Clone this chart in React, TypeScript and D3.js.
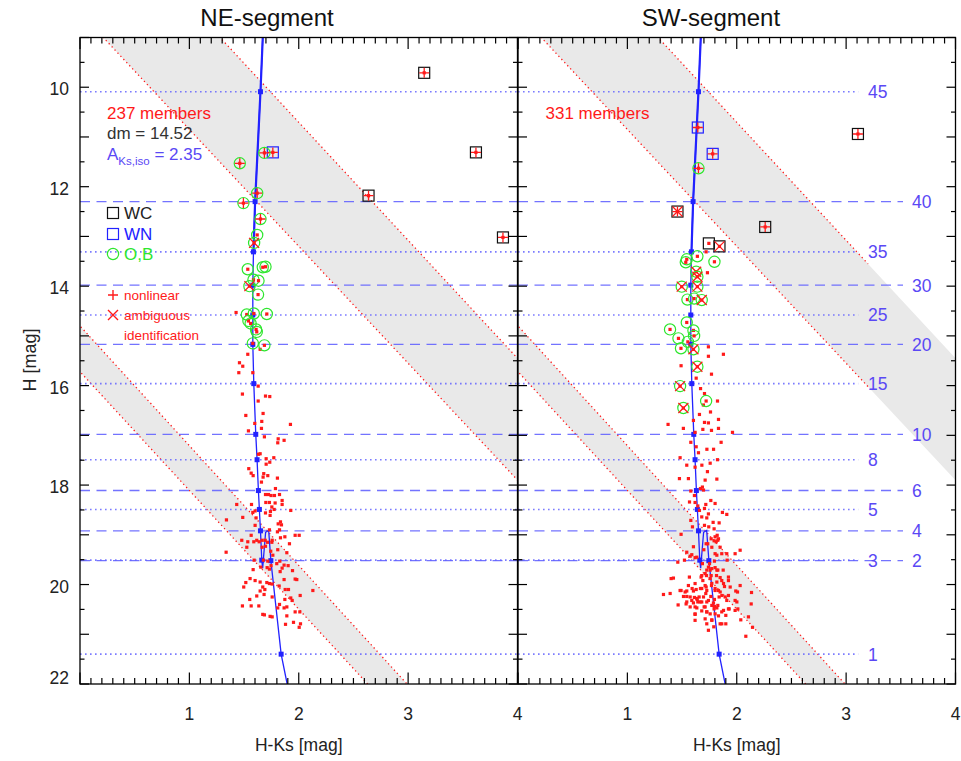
import React from 'react';
import * as d3 from 'd3';

// ---------- data ----------
const panelTitles = ['NE-segment', 'SW-segment'];
const memberCounts = ['237 members', '331 members'];
const xTickLabels = [1, 2, 3, 4];
const yTickLabels = [10, 12, 14, 16, 18, 20, 22];

// isochrone (H-Ks, H)
const isoX = [1.671, 1.650, 1.601, 1.586, 1.580, 1.580, 1.580, 1.589, 1.607, 1.619, 1.631, 1.640, 1.650, 1.662, 1.670, 1.697, 1.725, 1.745, 1.839, 1.894];
const isoH = [9.0, 10.09, 12.30, 13.31, 13.98, 14.58, 15.17, 15.96, 16.98, 17.49, 18.11, 18.49, 18.92, 19.51, 19.67, 18.95, 18.91, 19.52, 21.40, 22.0];

// mass marks along isochrone
const massLabels = ['45', '40', '35', '30', '25', '20', '15', '10', '8', '6', '5', '4', '3', '2', '1'];
const massH = [10.09, 12.30, 13.31, 13.98, 14.58, 15.17, 15.96, 16.98, 17.49, 18.11, 18.49, 18.92, 19.51, 19.52, 21.40];
const massX = [1.650, 1.601, 1.586, 1.580, 1.580, 1.580, 1.589, 1.607, 1.619, 1.631, 1.640, 1.650, 1.662, 1.745, 1.839];
const massDashed = [false, true, false, true, false, true, false, true, false, true, false, true, false, true, false];

// reddening band borders: [x1, H1, x2, H2]
const bandUpperLeft = [0.213, 9.0, 4.0, 17.90];
const bandUpperRight = [1.281, 9.0, 4.0, 15.45];
const bandLowerUpper = [0.0, 14.80, 2.99, 22.0];
const bandLowerLower = [0.0, 15.72, 2.63, 22.0];
const borderMaxX = [4.0, 3.2];

// NE-segment special stars
const neSpecX = [3.147, 3.62, 2.638, 3.867, 1.763, 1.686, 1.461, 1.62, 1.494, 1.65, 1.62, 1.592, 1.534, 1.671, 1.696, 1.586, 1.632, 1.549, 1.628, 1.525, 1.589, 1.708, 1.54, 1.56, 1.61, 1.616, 1.58, 1.686];
const neSpecH = [9.71, 11.31, 12.18, 13.02, 11.31, 11.32, 11.53, 12.13, 12.33, 12.65, 12.97, 13.13, 13.66, 13.62, 13.61, 13.87, 13.89, 14.0, 14.17, 14.57, 14.55, 14.56, 14.70, 14.75, 14.87, 14.92, 15.15, 15.19];
const neSpecType = ['WC', 'WC', 'WC', 'WC', 'WN', 'OB', 'OB', 'OB', 'OB', 'OB', 'OB', 'OB', 'OB', 'OB', 'OB', 'OB', 'OB', 'OB', 'OB', 'OB', 'OB', 'OB', 'OB', 'OB', 'OB', 'OB', 'OB', 'OB'];
const neSpecFlag = ['+', '+', '+', '+', '+', '+', '+', '+', '+', '+', '', 'x', '', '', '', '', '', 'x', '', '', '', '', '', '', '', '', '', ''];

// SW-segment special stars
const swSpecX = [3.108, 1.644, 1.78, 1.65, 1.458, 2.26, 1.745, 1.842, 1.543, 1.534, 1.64, 1.796, 1.629, 1.64, 1.497, 1.64, 1.549, 1.61, 1.68, 1.543, 1.39, 1.604, 1.467, 1.61, 1.553, 1.49, 1.604, 1.64, 1.482, 1.512, 1.72];
const swSpecH = [10.94, 10.81, 11.34, 11.63, 12.50, 12.81, 13.14, 13.20, 13.46, 13.52, 13.40, 13.51, 13.71, 13.81, 14.01, 14.01, 14.27, 14.25, 14.28, 14.73, 14.87, 14.89, 15.05, 15.0, 15.12, 15.25, 15.27, 15.62, 16.01, 16.45, 16.31];
const swSpecType = ['WC', 'WN', 'WN', 'OB', 'WC', 'WC', 'WC', 'WC', 'OB', 'OB', 'OB', 'OB', 'OB', 'OB', 'OB', 'OB', 'OB', 'OB', 'OB', 'OB', 'OB', 'OB', 'OB', 'OB', 'OB', 'OB', 'OB', 'OB', 'OB', 'OB', 'OB'];
const swSpecFlag = ['+', '+', '+', '+', '*', '+', '', 'x', '', '', '', '', 'x', 'x', 'x', 'x', '', '', 'x', '', '', '', '', '', '', '', 'x', 'x', 'x', 'x', ''];

// NE-segment other members
const neDotX = [1.427, 1.534, 1.647, 1.458, 1.488, 1.452, 1.580, 1.629, 1.485, 1.696, 1.735, 1.629, 1.674, 1.516, 1.662, 1.598, 1.659, 1.924, 1.540, 1.812, 1.866, 1.686, 1.808, 1.647, 1.632, 1.772, 1.702, 1.735, 1.702, 1.543, 1.565, 1.583, 1.680, 1.717, 1.674, 1.805, 1.659, 1.787, 1.696, 1.723, 1.747, 1.778, 1.824, 1.848, 1.848, 1.433, 1.568, 1.699, 1.732, 1.784, 1.754, 1.927, 1.580, 1.601, 1.696, 1.741, 1.775, 1.488, 1.610, 1.738, 1.833, 1.812, 1.842, 1.339, 1.601, 1.732, 1.824, 1.805, 1.565, 1.479, 1.534, 1.589, 1.616, 1.638, 1.665, 1.693, 1.757, 1.714, 1.754, 1.915, 1.967, 2.004, 1.873, 1.833, 1.336, 1.525, 1.665, 1.696, 1.744, 1.808, 1.891, 1.763, 1.592, 1.677, 1.717, 1.827, 1.799, 1.866, 1.903, 1.848, 1.583, 1.653, 1.711, 1.732, 1.747, 1.830, 1.943, 1.555, 1.516, 1.497, 1.601, 1.647, 1.671, 1.708, 1.732, 1.647, 1.690, 1.757, 1.821, 1.866, 1.967, 1.982, 2.129, 1.876, 1.906, 1.873, 1.927, 1.940, 1.616, 1.552, 1.683, 1.757, 2.013, 1.485, 1.565, 1.635, 1.824, 1.808, 1.866, 1.891, 1.967, 2.010, 1.671, 1.686, 1.738, 1.757, 1.891, 1.952, 1.879, 2.016, 2.004];
const neDotH = [14.53, 15.37, 15.27, 15.54, 15.61, 15.74, 15.74, 16.01, 16.17, 16.21, 16.22, 16.31, 16.56, 16.60, 16.72, 16.76, 16.86, 16.78, 16.91, 17.07, 17.10, 17.03, 17.15, 17.37, 17.38, 17.45, 17.47, 17.54, 17.58, 17.67, 17.76, 17.81, 17.77, 17.81, 17.84, 17.86, 17.94, 18.07, 18.19, 18.19, 18.21, 18.21, 18.19, 18.31, 18.39, 18.39, 18.39, 18.35, 18.35, 18.36, 18.44, 18.51, 18.55, 18.52, 18.56, 18.53, 18.49, 18.65, 18.66, 18.61, 18.74, 18.78, 18.80, 18.70, 18.81, 18.90, 18.90, 18.94, 19.01, 19.11, 19.14, 19.14, 19.11, 19.14, 19.11, 19.11, 19.11, 19.15, 19.15, 19.18, 19.01, 19.01, 19.04, 19.06, 19.35, 19.25, 19.25, 19.23, 19.33, 19.30, 19.36, 19.41, 19.51, 19.51, 19.53, 19.53, 19.58, 19.61, 19.62, 19.67, 19.70, 19.65, 19.66, 19.69, 19.62, 19.74, 19.72, 19.88, 19.96, 20.05, 19.92, 19.95, 20.05, 19.96, 19.98, 20.13, 20.10, 19.99, 20.03, 19.90, 19.89, 19.90, 20.12, 20.10, 20.10, 20.30, 20.27, 20.32, 20.23, 20.30, 20.20, 20.25, 20.22, 20.43, 20.43, 20.43, 20.40, 20.47, 20.47, 20.45, 20.55, 20.55, 20.60, 20.61, 20.64, 20.65, 20.63, 20.76, 20.80, 20.79, 20.86];

// SW-segment other members
const swDotX = [1.732, 1.720, 1.741, 1.878, 1.741, 1.491, 1.769, 1.629, 1.669, 1.705, 1.824, 1.695, 1.760, 1.659, 1.833, 1.604, 1.705, 1.741, 1.372, 1.512, 1.690, 1.833, 1.769, 1.619, 1.961, 1.580, 1.857, 1.629, 1.727, 1.788, 1.650, 1.482, 1.824, 1.543, 1.681, 1.757, 1.619, 1.732, 1.818, 1.476, 1.558, 1.711, 1.686, 1.668, 1.696, 1.580, 1.613, 1.568, 1.619, 1.717, 1.763, 1.802, 1.644, 1.659, 1.741, 1.869, 1.909, 1.705, 1.680, 1.726, 1.784, 1.580, 1.595, 1.705, 1.744, 1.839, 1.802, 1.827, 1.821, 1.793, 1.491, 1.543, 1.589, 1.635, 1.699, 1.735, 1.772, 1.812, 1.848, 1.802, 1.863, 1.985, 2.031, 1.912, 1.796, 1.751, 1.522, 1.461, 1.686, 1.726, 1.772, 1.827, 1.876, 1.680, 1.723, 1.766, 1.815, 1.924, 1.863, 1.400, 1.421, 1.330, 1.391, 1.491, 1.543, 1.592, 1.629, 1.668, 1.720, 1.769, 1.802, 1.833, 1.888, 1.991, 2.135, 1.543, 1.613, 1.656, 1.717, 1.741, 1.796, 1.839, 1.894, 1.985, 1.589, 1.638, 1.680, 1.464, 1.537, 1.619, 1.644, 1.702, 1.772, 1.793, 1.827, 1.879, 1.931, 1.985, 2.010, 2.132, 1.726, 1.680, 1.619, 1.757, 1.833, 1.863, 1.900, 2.107, 1.796, 1.726, 1.863, 1.900, 1.619, 1.772, 2.144, 2.037, 2.083, 1.741, 1.790,
  1.741, 1.802, 1.757, 1.711, 1.818, 1.674, 1.690, 1.757, 1.848, 1.924, 1.567, 1.619, 1.711, 1.772, 1.818, 1.879, 1.680, 1.558, 1.482, 1.528, 1.604, 1.726, 1.802, 1.848, 1.940, 2.031, 1.513, 1.574, 1.635, 1.696, 1.763, 1.864, 1.924, 2.007, 1.543, 1.604, 1.665, 1.726, 1.787, 1.909, 2.001, 1.574, 1.635, 1.711, 1.818, 1.924, 1.619, 1.726, 1.802, 1.711, 1.772, 1.848, 1.818, 1.909, 1.574, 1.619, 1.766, 1.833, 1.793, 1.604, 1.720];
const swDotH = [13.73, 13.31, 15.22, 15.37, 15.41, 15.60, 15.77, 15.85, 16.06, 16.16, 16.31, 16.39, 16.53, 16.58, 16.68, 16.70, 16.74, 16.75, 16.78, 16.86, 16.88, 16.86, 16.90, 16.94, 16.94, 17.14, 17.14, 17.23, 17.28, 17.28, 17.35, 17.45, 17.49, 17.60, 17.60, 17.56, 17.64, 17.73, 17.88, 17.87, 17.87, 17.90, 18.04, 18.07, 18.10, 18.12, 18.21, 18.34, 18.35, 18.39, 18.31, 18.37, 18.42, 18.51, 18.58, 18.55, 18.59, 18.47, 18.64, 18.66, 18.75, 18.71, 18.84, 18.81, 18.84, 18.76, 19.04, 19.11, 19.01, 18.88, 18.99, 19.35, 19.40, 19.45, 19.30, 19.18, 19.25, 19.14, 19.25, 19.38, 19.38, 19.38, 19.31, 19.51, 19.53, 19.58, 19.51, 19.55, 19.58, 19.71, 19.68, 19.71, 19.71, 19.82, 19.82, 19.82, 19.82, 19.92, 19.92, 19.88, 19.87, 20.20, 20.18, 20.12, 20.13, 20.08, 20.10, 20.08, 20.05, 20.02, 20.08, 20.12, 20.04, 20.13, 20.16, 20.24, 20.26, 20.25, 20.18, 20.32, 20.30, 20.25, 20.25, 20.32, 20.32, 20.30, 20.35, 20.41, 20.39, 20.45, 20.35, 20.45, 20.42, 20.49, 20.42, 20.52, 20.49, 20.52, 20.49, 20.39, 20.55, 20.53, 20.60, 20.59, 20.63, 20.55, 20.62, 20.65, 20.44, 20.79, 20.79, 20.79, 20.72, 20.72, 20.86, 20.71, 21.04, 20.92, 20.85,
  19.65, 19.66, 19.71, 19.78, 19.71, 19.85, 19.92, 19.88, 19.86, 19.85, 19.85, 19.98, 20.02, 19.98, 19.95, 19.98, 20.08, 20.02, 20.12, 20.15, 20.13, 20.12, 20.12, 20.15, 20.05, 20.02, 20.24, 20.25, 20.28, 20.25, 20.24, 20.22, 20.22, 20.15, 20.35, 20.37, 20.35, 20.35, 20.37, 20.32, 20.35, 20.45, 20.47, 20.45, 20.47, 20.49, 20.59, 20.55, 20.59, 20.69, 20.71, 20.79, 19.41, 19.38, 19.43, 19.46, 19.08, 19.08, 19.12, 19.24, 19.18];

// ---------- styling ----------
const FONT = '"Liberation Sans", Arial, Helvetica, sans-serif';
const RED = '#ff1a1a';
const GREEN = '#2ee62e';
const BLUE = '#2222ff';
const LINE_BLUE = '#6464ff';
const LABEL_BLUE = '#5a48f5';
const GRAY = '#e9e9e9';

const PX = [80, 518];
const PW = 437.5;
const TOP = 37.5;
const BOTTOM = 684;

function Panel({ idx }: { idx: number }) {
  const x = d3.scaleLinear().domain([0, 4]).range([PX[idx], PX[idx] + PW]);
  const y = d3.scaleLinear().domain([9, 22]).range([TOP, BOTTOM]);
  const clipId = `clip${idx}`;
  const line = d3.line<number>().x((_, i) => x(isoX[i])).y((_, i) => y(isoH[i]));
  const isoIdx = isoX.map((_, i) => i);
  const topIdx = isoIdx.filter((i) => isoH[i] <= 13.31);

  const bandPoly = (a: number[], b: number[]) => {
    const ext = (l: number[]) => {
      const s = (l[3] - l[1]) / (l[2] - l[0]);
      return [[-1, l[1] + s * (-1 - l[0])], [6, l[1] + s * (6 - l[0])]];
    };
    const ea = ext(a);
    const eb = ext(b);
    return [ea[0], ea[1], eb[1], eb[0]].map((p) => `${x(p[0])},${y(p[1])}`).join(' ');
  };
  const borderLine = (l: number[], key: string) => {
    const s = (l[3] - l[1]) / (l[2] - l[0]);
    const x1 = -1;
    const x2 = borderMaxX[idx];
    return (
      <line key={key} x1={x(x1)} y1={y(l[1] + s * (x1 - l[0]))} x2={x(x2)} y2={y(l[1] + s * (x2 - l[0]))}
        stroke={RED} strokeWidth={1.3} strokeDasharray="1.3,3" />
    );
  };

  const specX = idx === 0 ? neSpecX : swSpecX;
  const specH = idx === 0 ? neSpecH : swSpecH;
  const specType = idx === 0 ? neSpecType : swSpecType;
  const specFlag = idx === 0 ? neSpecFlag : swSpecFlag;
  const dotX = idx === 0 ? neDotX : swDotX;
  const dotH = idx === 0 ? neDotH : swDotH;

  const xMinor = d3.range(0, 40.5, 1).map((v) => v / 10);
  const yMinor = d3.range(18, 44.5, 1).map((v) => v / 2);

  const dotEnd = idx === 0 ? 4 : 3.11;
  const dashEnd = idx === 0 ? 4 : 3.52;

  return (
    <g>
      <defs>
        <clipPath id={clipId}>
          <rect x={PX[idx]} y={TOP} width={PW} height={BOTTOM - TOP} />
        </clipPath>
      </defs>
      <g clipPath={`url(#${clipId})`}>
        <polygon points={bandPoly(bandUpperLeft, bandUpperRight)} fill={GRAY} />
        <polygon points={bandPoly(bandLowerUpper, bandLowerLower)} fill={GRAY} />
        {borderLine(bandUpperLeft, 'b1')}
        {borderLine(bandUpperRight, 'b2')}
        {borderLine(bandLowerUpper, 'b3')}
        {borderLine(bandLowerLower, 'b4')}
        {massH.map((h, i) => (
          <line key={'m' + i} x1={x(0)} x2={x(massDashed[i] ? dashEnd : dotEnd)} y1={y(h)} y2={y(h)}
            stroke={LINE_BLUE} strokeOpacity={massDashed[i] ? 0.9 : 0.85} strokeWidth={massDashed[i] ? 1.4 : 1.6}
            strokeDasharray={massDashed[i] ? '10,6.5' : '1.6,3.4'} />
        ))}
        <path d={line(isoIdx) || ''} fill="none" stroke={BLUE} strokeWidth={1.3} />
        <path d={line(topIdx) || ''} fill="none" stroke={BLUE} strokeWidth={2.2} />
        {massH.map((h, i) => (
          <rect key={'mk' + i} x={x(massX[i]) - 2.5} y={y(h) - 2.5} width={5} height={5} fill={BLUE} />
        ))}
        {dotX.map((v, i) => (
          <rect key={'d' + i} x={x(v) - 1.6} y={y(dotH[i]) - 1.6} width={3.2} height={3.2} fill={RED} />
        ))}
        {specX.map((v, i) => {
          const cx = x(v);
          const cy = y(specH[i]);
          const t = specType[i];
          const f = specFlag[i];
          return (
            <g key={'s' + i}>
              {t === 'OB' && <circle cx={cx} cy={cy} r={5.6} fill="none" stroke={GREEN} strokeWidth={1.2} />}
              {t === 'WC' && <rect x={cx - 5.5} y={cy - 5.5} width={11} height={11} fill="none" stroke="#111" strokeWidth={1.2} />}
              {t === 'WN' && <rect x={cx - 5.5} y={cy - 5.5} width={11} height={11} fill="none" stroke={BLUE} strokeWidth={1.2} />}
              <rect x={cx - 1.6} y={cy - 1.6} width={3.2} height={3.2} fill={RED} />
              {(f === '+' || f === '*') && (
                <path d={`M${cx - 5},${cy}H${cx + 5}M${cx},${cy - 5}V${cy + 5}`} stroke={RED} strokeWidth={1.3} />
              )}
              {(f === 'x' || f === '*') && (
                <path d={`M${cx - 5},${cy - 5}L${cx + 5},${cy + 5}M${cx - 5},${cy + 5}L${cx + 5},${cy - 5}`} stroke={RED} strokeWidth={1.3} />
              )}
            </g>
          );
        })}
      </g>
      {idx === 1 && massH.map((h, i) => (
        <text key={'ml' + i} x={massDashed[i] ? 912 : 868} y={y(h) + 6.5} fill={LABEL_BLUE}
          fontFamily={FONT} fontSize={17.5}>{massLabels[i]}</text>
      ))}
      <rect x={PX[idx]} y={TOP} width={PW} height={BOTTOM - TOP} fill="none" stroke="#000" strokeWidth={1.3} />
      {xMinor.map((v, i) => {
        const major = Math.abs(v - Math.round(v)) < 1e-6;
        const len = major ? 11.5 : 6;
        return (
          <g key={'xt' + i}>
            <line x1={x(v)} x2={x(v)} y1={TOP} y2={TOP + len} stroke="#000" strokeWidth={1.2} />
            <line x1={x(v)} x2={x(v)} y1={BOTTOM} y2={BOTTOM - len} stroke="#000" strokeWidth={1.2} />
          </g>
        );
      })}
      {yMinor.map((v, i) => {
        const major = Math.abs(v - Math.round(v)) < 1e-6;
        const len = major ? 9 : 4.5;
        return (
          <g key={'yt' + i}>
            <line x1={PX[idx]} x2={PX[idx] + len} y1={y(v)} y2={y(v)} stroke="#000" strokeWidth={1.2} />
            <line x1={PX[idx] + PW} x2={PX[idx] + PW - len} y1={y(v)} y2={y(v)} stroke="#000" strokeWidth={1.2} />
          </g>
        );
      })}
      {xTickLabels.map((v) => (
        <text key={'xl' + v} x={x(v)} y={720} textAnchor="middle" fontFamily={FONT} fontSize={17.5} fill="#222">{v}</text>
      ))}
      <text x={x(2)} y={751} textAnchor="middle" fontFamily={FONT} fontSize={17.5} fill="#222">H-Ks [mag]</text>
      <text x={idx === 0 ? 267 : 711} y={26} textAnchor="middle" fontFamily={FONT} fontSize={24} fill="#111">{panelTitles[idx]}</text>
      <text x={idx === 0 ? 107 : 545.5} y={119} fontFamily={FONT} fontSize={17} fill={RED}>{memberCounts[idx]}</text>
    </g>
  );
}

function Legend() {
  const lx = 113;
  return (
    <g fontFamily={FONT}>
      <text x={107} y={139} fontSize={17} fill="#333">dm = 14.52</text>
      <text x={107} y={160} fontSize={17} fill={LABEL_BLUE}>
        A<tspan fontSize={11.5} dy={5}>Ks,iso</tspan><tspan dy={-5}> = 2.35</tspan>
      </text>
      <rect x={lx - 5.5} y={213 - 5.5} width={11} height={11} fill="none" stroke="#111" strokeWidth={1.2} />
      <text x={124} y={219} fontSize={17} fill="#222">WC</text>
      <rect x={lx - 5.5} y={234 - 5.5} width={11} height={11} fill="none" stroke={BLUE} strokeWidth={1.2} />
      <text x={124} y={240} fontSize={17} fill={BLUE}>WN</text>
      <circle cx={lx} cy={254} r={5.6} fill="none" stroke={GREEN} strokeWidth={1.2} />
      <text x={124} y={260} fontSize={17} fill={GREEN}>O,B</text>
      <path d={`M${lx - 5},295H${lx + 5}M${lx},290V300`} stroke={RED} strokeWidth={1.4} />
      <text x={124} y={300} fontSize={13.5} fill={RED}>nonlinear</text>
      <path d={`M${lx - 5},310L${lx + 5},320M${lx - 5},320L${lx + 5},310`} stroke={RED} strokeWidth={1.4} />
      <text x={124} y={320} fontSize={13.5} fill={RED}>ambiguous</text>
      <text x={124} y={340} fontSize={13.5} fill={RED}>identification</text>
    </g>
  );
}

export default function App() {
  const y = d3.scaleLinear().domain([9, 22]).range([TOP, BOTTOM]);
  return (
    <svg width={961} height={761} style={{ position: 'absolute', left: 0, top: 0, background: '#fff' }}>
      <rect width={961} height={761} fill="#fff" />
      <Panel idx={0} />
      <Panel idx={1} />
      <Legend />
      {yTickLabels.map((v) => (
        <text key={'yl' + v} x={69} y={Math.min(y(v) + 8, 684)} textAnchor="end" fontFamily={FONT} fontSize={17.5} fill="#222">{v}</text>
      ))}
      <text transform={`translate(36,360) rotate(-90)`} textAnchor="middle" fontFamily={FONT} fontSize={18} fill="#222">H [mag]</text>
    </svg>
  );
}
